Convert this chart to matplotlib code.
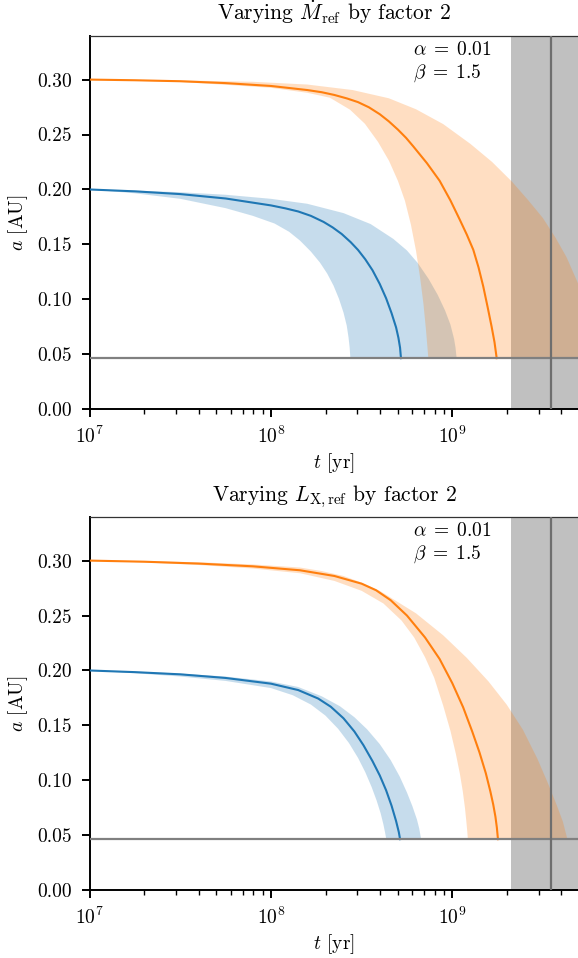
import numpy as np
import matplotlib
matplotlib.use("Agg")
import matplotlib.pyplot as plt

plt.rcParams['font.family'] = 'serif'
plt.rcParams['font.serif'] = ['cmr10']
plt.rcParams['mathtext.fontset'] = 'cm'
plt.rcParams['axes.formatter.use_mathtext'] = True
plt.rcParams['font.size'] = 14

# stopping radius and observed age window
a_stop = 0.0465
age_lo = 2.11e9
age_hi = 1.0e10
age_best = 3.5e9

# times are given as log10(t / yr)
# --- top panel: varying Mdot_ref ---
mdot_blue_logt = [7.0, 7.25, 7.5, 7.75, 8.0, 8.08, 8.15, 8.22, 8.29, 8.34, 8.39, 8.44, 8.48, 8.52, 8.56, 8.60, 8.635, 8.665, 8.69, 8.703, 8.712, 8.717]
mdot_blue_a = [0.2000, 0.1983, 0.1958, 0.1918, 0.1855, 0.1828, 0.1800, 0.1760, 0.1705, 0.1655, 0.1595, 0.1520, 0.1450, 0.1365, 0.1265, 0.1140, 0.1010, 0.0875, 0.0745, 0.0650, 0.0560, 0.0465]
mdot_blue_hi_logt = [7.0, 7.25, 7.5, 7.75, 8.0, 8.2, 8.4, 8.55, 8.675, 8.75, 8.81, 8.87, 8.92, 8.96, 8.99, 9.01, 9.018, 9.024]
mdot_blue_hi_a = [0.2000, 0.1990, 0.1975, 0.1952, 0.1915, 0.1870, 0.1785, 0.1685, 0.1550, 0.1445, 0.1330, 0.1185, 0.1040, 0.0900, 0.0770, 0.0640, 0.0560, 0.0465]
mdot_blue_lo_logt = [7.0, 7.25, 7.5, 7.75, 7.9, 8.02, 8.1, 8.16, 8.22, 8.27, 8.31, 8.345, 8.375, 8.40, 8.418, 8.428, 8.434, 8.438]
mdot_blue_lo_a = [0.2000, 0.1965, 0.1915, 0.1830, 0.1760, 0.1690, 0.1615, 0.1535, 0.1435, 0.1335, 0.1235, 0.1125, 0.1005, 0.0880, 0.0760, 0.0650, 0.0560, 0.0465]

mdot_orange_logt = [7.0, 7.25, 7.5, 7.75, 8.0, 8.2, 8.28, 8.35, 8.42, 8.48, 8.54, 8.60, 8.65, 8.70, 8.745, 8.785, 8.86, 8.93, 8.99, 9.04, 9.08, 9.116, 9.145, 9.171, 9.195, 9.217, 9.233, 9.245]
mdot_orange_a = [0.3000, 0.2994, 0.2985, 0.2968, 0.2942, 0.2905, 0.2885, 0.2860, 0.2828, 0.2795, 0.2748, 0.2685, 0.2620, 0.2545, 0.2470, 0.2392, 0.2240, 0.2080, 0.1900, 0.1730, 0.1590, 0.1451, 0.1290, 0.1117, 0.0930, 0.0752, 0.0610, 0.0465]
mdot_orange_hi_logt = [7.0, 7.5, 7.9, 8.2, 8.45, 8.65, 8.8, 8.95, 9.1, 9.22, 9.33, 9.42, 9.5, 9.57, 9.63, 9.69, 9.74, 9.79, 9.84]
mdot_orange_hi_a = [0.3000, 0.2993, 0.2980, 0.2955, 0.2905, 0.2830, 0.2730, 0.2595, 0.2415, 0.2250, 0.2070, 0.1900, 0.1740, 0.1560, 0.1385, 0.1160, 0.0950, 0.0720, 0.0465]
mdot_orange_lo_logt = [7.0, 7.5, 7.774, 8.0, 8.2, 8.325, 8.436, 8.518, 8.590, 8.651, 8.700, 8.739, 8.772, 8.800, 8.822, 8.841, 8.855, 8.868]
mdot_orange_lo_a = [0.3000, 0.2978, 0.2950, 0.2925, 0.2880, 0.2835, 0.2726, 0.2598, 0.2434, 0.2261, 0.2079, 0.1897, 0.1679, 0.1442, 0.1205, 0.0959, 0.0722, 0.0465]

# --- bottom panel: varying L_X,ref ---
lx_blue_logt = [7.0, 7.25, 7.5, 7.75, 8.0, 8.15, 8.26, 8.33, 8.40, 8.46, 8.51, 8.56, 8.60, 8.635, 8.665, 8.69, 8.705, 8.712]
lx_blue_a = [0.2000, 0.1985, 0.1965, 0.1932, 0.1880, 0.1822, 0.1745, 0.1670, 0.1565, 0.1445, 0.1320, 0.1175, 0.1045, 0.0910, 0.0770, 0.0630, 0.0530, 0.0465]
lx_blue_hi_logt = [7.0, 7.25, 7.5, 7.75, 8.0, 8.15, 8.28, 8.38, 8.46, 8.53, 8.6, 8.66, 8.71, 8.75, 8.78, 8.805, 8.818, 8.828]
lx_blue_hi_a = [0.2000, 0.1990, 0.1972, 0.1945, 0.1900, 0.1850, 0.1765, 0.1675, 0.1575, 0.1465, 0.1330, 0.1185, 0.1035, 0.0890, 0.0765, 0.0645, 0.0560, 0.0465]
lx_blue_lo_logt = [7.0, 7.25, 7.5, 7.75, 8.0, 8.12, 8.22, 8.30, 8.37, 8.43, 8.48, 8.52, 8.555, 8.583, 8.605, 8.620, 8.630, 8.636]
lx_blue_lo_a = [0.2000, 0.1975, 0.1945, 0.1905, 0.1840, 0.1775, 0.1690, 0.1590, 0.1470, 0.1340, 0.1205, 0.1075, 0.0940, 0.0815, 0.0700, 0.0600, 0.0520, 0.0465]

lx_orange_logt = [7.0, 7.3, 7.6, 7.9, 8.16, 8.35, 8.5, 8.58, 8.66, 8.75, 8.85, 8.93, 9.0, 9.06, 9.11, 9.15, 9.185, 9.21, 9.226, 9.238, 9.246, 9.252]
lx_orange_a = [0.3000, 0.2990, 0.2973, 0.2948, 0.2912, 0.2860, 0.2790, 0.2730, 0.2640, 0.2500, 0.2300, 0.2105, 0.1885, 0.1665, 0.1445, 0.1255, 0.1065, 0.0900, 0.0780, 0.0670, 0.0570, 0.0465]
lx_orange_hi_logt = [7.0, 7.3, 7.6, 7.9, 8.16, 8.28, 8.4, 8.5, 8.6, 8.8, 8.95, 9.08, 9.2, 9.3, 9.39, 9.47, 9.53, 9.575, 9.61, 9.635]
lx_orange_hi_a = [0.3000, 0.2995, 0.2985, 0.2965, 0.2937, 0.2905, 0.2860, 0.2800, 0.2725, 0.2520, 0.2320, 0.2115, 0.1900, 0.1690, 0.1460, 0.1195, 0.0965, 0.0780, 0.0625, 0.0465]
lx_orange_lo_logt = [7.0, 7.3, 7.6, 7.9, 8.16, 8.35, 8.5, 8.62, 8.72, 8.79, 8.85, 8.90, 8.95, 8.99, 9.02, 9.042, 9.058, 9.07, 9.078, 9.083, 9.086]
lx_orange_lo_a = [0.3000, 0.2983, 0.2960, 0.2928, 0.2885, 0.2815, 0.2725, 0.2610, 0.2455, 0.2300, 0.2120, 0.1935, 0.1680, 0.1450, 0.1240, 0.1060, 0.0900, 0.0750, 0.0620, 0.0530, 0.0465]

blue = '#1f77b4'
orange = '#ff7f0e'


def draw_band(ax, logt_hi, a_hi, logt_lo, a_lo, color):
    #Polygon: outer curve out, inner curve back
    xs = 10 ** np.concatenate([logt_hi, logt_lo[::-1]])
    ys = np.concatenate([a_hi, a_lo[::-1]])
    ax.fill(xs, ys, color=color, alpha=0.25, lw=0, zorder=2)


def draw_panel(ax, title, curves):
    ax.axvspan(age_lo, age_hi, color='#c0c0c0', lw=0, zorder=1)
    for c in curves:
        draw_band(ax, c[2], c[3], c[4], c[5], c[6])
    for c in curves:
        ax.plot(10 ** np.array(c[0]), c[1], color=c[6], lw=1.5, zorder=4)
    ax.axhline(a_stop, color='#808080', lw=1.6, zorder=5)
    ax.axvline(age_best, color='#6e6e6e', lw=1.6, zorder=5)

    ax.set_xscale('log')
    ax.set_xlim(1e7, 5e9)
    ax.set_ylim(0, 0.34)
    ax.set_yticks(np.arange(0, 0.31, 0.05))
    ax.yaxis.set_major_formatter(matplotlib.ticker.FormatStrFormatter('%.2f'))

    ax.set_title(title, fontsize=15.5, pad=11)
    ax.set_xlabel(r'$t$ [yr]', fontsize=14)
    ax.set_ylabel(r'$a$ [AU]', fontsize=14)
    ax.xaxis.set_label_coords(0.5, -0.112)
    ax.yaxis.set_label_coords(-0.122, 0.5)

    ax.text(0.66, 0.962, r'$\alpha\;=\;0.01$', transform=ax.transAxes, va='center', fontsize=14)
    ax.text(0.66, 0.900, r'$\beta\;=\;1.5$', transform=ax.transAxes, va='center', fontsize=14)

    for side in ['left', 'bottom']:
        ax.spines[side].set_linewidth(1.4)
        ax.spines[side].set_color('black')
    ax.spines['top'].set_linewidth(0.9)
    ax.spines['top'].set_color('#333333')
    ax.spines['right'].set_visible(False)
    ax.tick_params(which='major', length=6, width=1.4, direction='out', labelsize=14)
    ax.tick_params(which='minor', length=3.5, width=1.0, direction='out')
    ax.tick_params(axis='y', which='major', pad=7)
    ax.tick_params(axis='x', which='major', pad=6)


fig = plt.figure(figsize=(5.78, 9.58), dpi=100)
ax1 = fig.add_axes([0.1552, 0.5728, 0.8465, 0.39])
ax2 = fig.add_axes([0.1552, 0.0707, 0.8465, 0.39])

curves_top = [
    (mdot_blue_logt, mdot_blue_a, mdot_blue_hi_logt, mdot_blue_hi_a, mdot_blue_lo_logt, mdot_blue_lo_a, blue),
    (mdot_orange_logt, mdot_orange_a, mdot_orange_hi_logt, mdot_orange_hi_a, mdot_orange_lo_logt, mdot_orange_lo_a, orange),
]
curves_bottom = [
    (lx_blue_logt, lx_blue_a, lx_blue_hi_logt, lx_blue_hi_a, lx_blue_lo_logt, lx_blue_lo_a, blue),
    (lx_orange_logt, lx_orange_a, lx_orange_hi_logt, lx_orange_hi_a, lx_orange_lo_logt, lx_orange_lo_a, orange),
]

draw_panel(ax1, r'Varying $\dot{M}_\mathrm{ref}$ by factor 2', curves_top)
draw_panel(ax2, r'Varying $L_\mathrm{X,ref}$ by factor 2', curves_bottom)

fig.savefig('out.png', dpi=100)
